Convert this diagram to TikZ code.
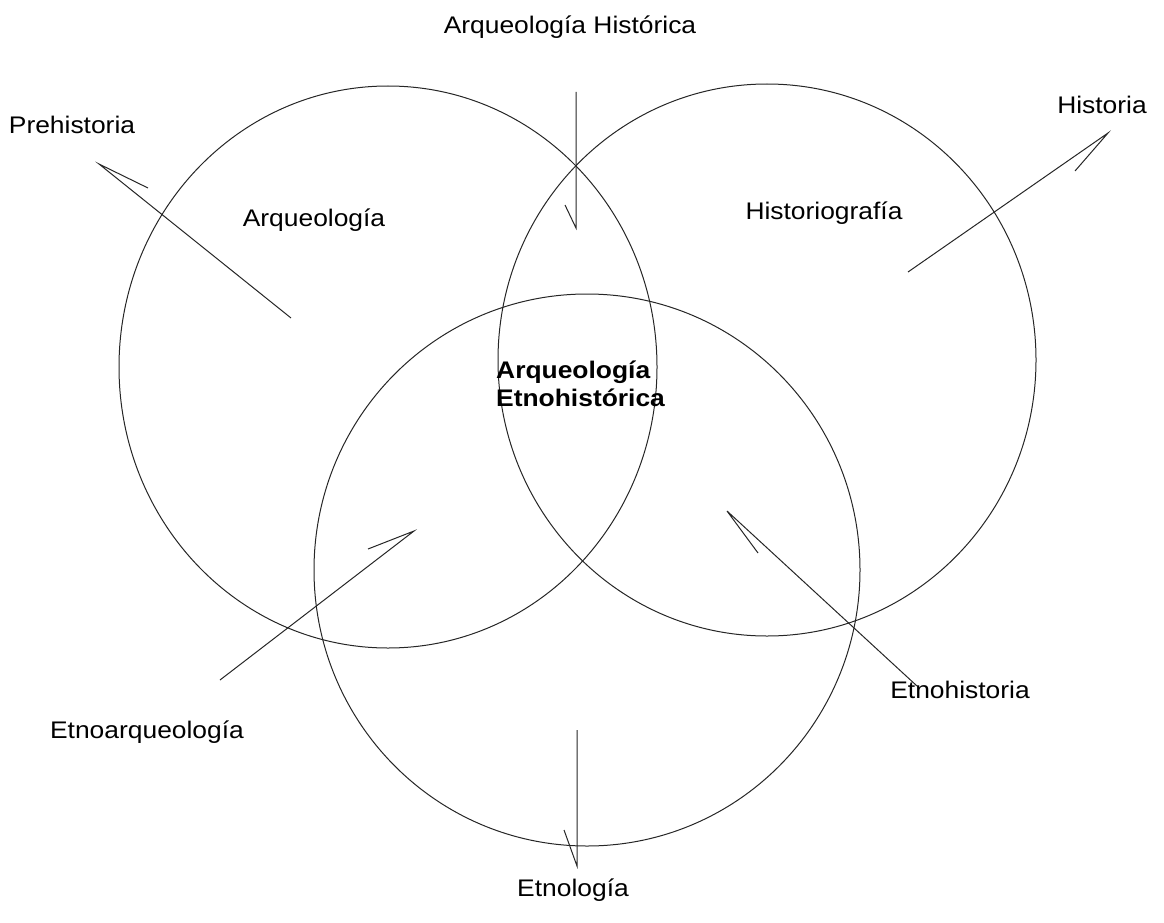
\documentclass[tikz,border=0pt]{standalone}
\usepackage{fontspec}
\setmainfont{Liberation Sans}[FakeStretch=1.1]
\begin{document}
\begin{tikzpicture}[x=1pt,y=-1pt,
  lbl/.style={font=\fontsize{24}{28}\selectfont, inner sep=0pt},
  venn/.style={draw=black!85, line width=1pt},
  conn/.style={draw=black!85, line width=1pt, line join=miter}]
\useasboundingbox (0,0) rectangle (1164,923);
% circles
\draw[venn] (388,367) ellipse [x radius=269pt, y radius=281pt];
\draw[venn] (767,360) ellipse [x radius=269pt, y radius=276pt];
\draw[venn] (587,570) ellipse [x radius=273pt, y radius=276pt];
% labels
\node[lbl] (ah) at (570,27) {Arqueología Histórica};
\node[lbl] (hist) at (1102,105) {Historia};
\node[lbl] (pre) at (72,125) {Prehistoria};
\node[lbl] (arq) at (314,220) {Arqueología};
\node[lbl] (hgr) at (824,213) {Historiografía};
\node[lbl, font=\fontsize{24}{28}\selectfont\bfseries, align=left, anchor=west] (aeh) at (496,384) {Arqueología\\Etnohistórica};
\node[lbl] (earq) at (147,732) {Etnoarqueología};
\node[lbl] (eh) at (960,690) {Etnohistoria};
\node[lbl] (etn) at (573,890) {Etnología};
% connector points
\coordinate (preS) at (291,318); \coordinate (preT) at (99,164); \coordinate (preB) at (148,188);
\coordinate (ahS) at (576,92); \coordinate (ahT) at (576,228); \coordinate (ahB) at (565,205);
\coordinate (hiS) at (908,272); \coordinate (hiT) at (1108,133); \coordinate (hiB) at (1075,171);
\coordinate (eaS) at (220,680); \coordinate (eaT) at (414,531); \coordinate (eaB) at (368,549);
\coordinate (ehS) at (917,686); \coordinate (ehT) at (727,511); \coordinate (ehB) at (758,553);
\coordinate (etS) at (577,730); \coordinate (etT) at (577,866); \coordinate (etB) at (564,830);
% connectors with single-barb heads
\draw[conn] (preS) -- (preT) -- (preB);
\draw[conn] (ahS) -- (ahT) -- (ahB);
\draw[conn] (hiS) -- (hiT) -- (hiB);
\draw[conn] (eaS) -- (eaT) -- (eaB);
\draw[conn] (ehS) -- (ehT) -- (ehB);
\draw[conn] (etS) -- (etT) -- (etB);
\end{tikzpicture}
\end{document}
